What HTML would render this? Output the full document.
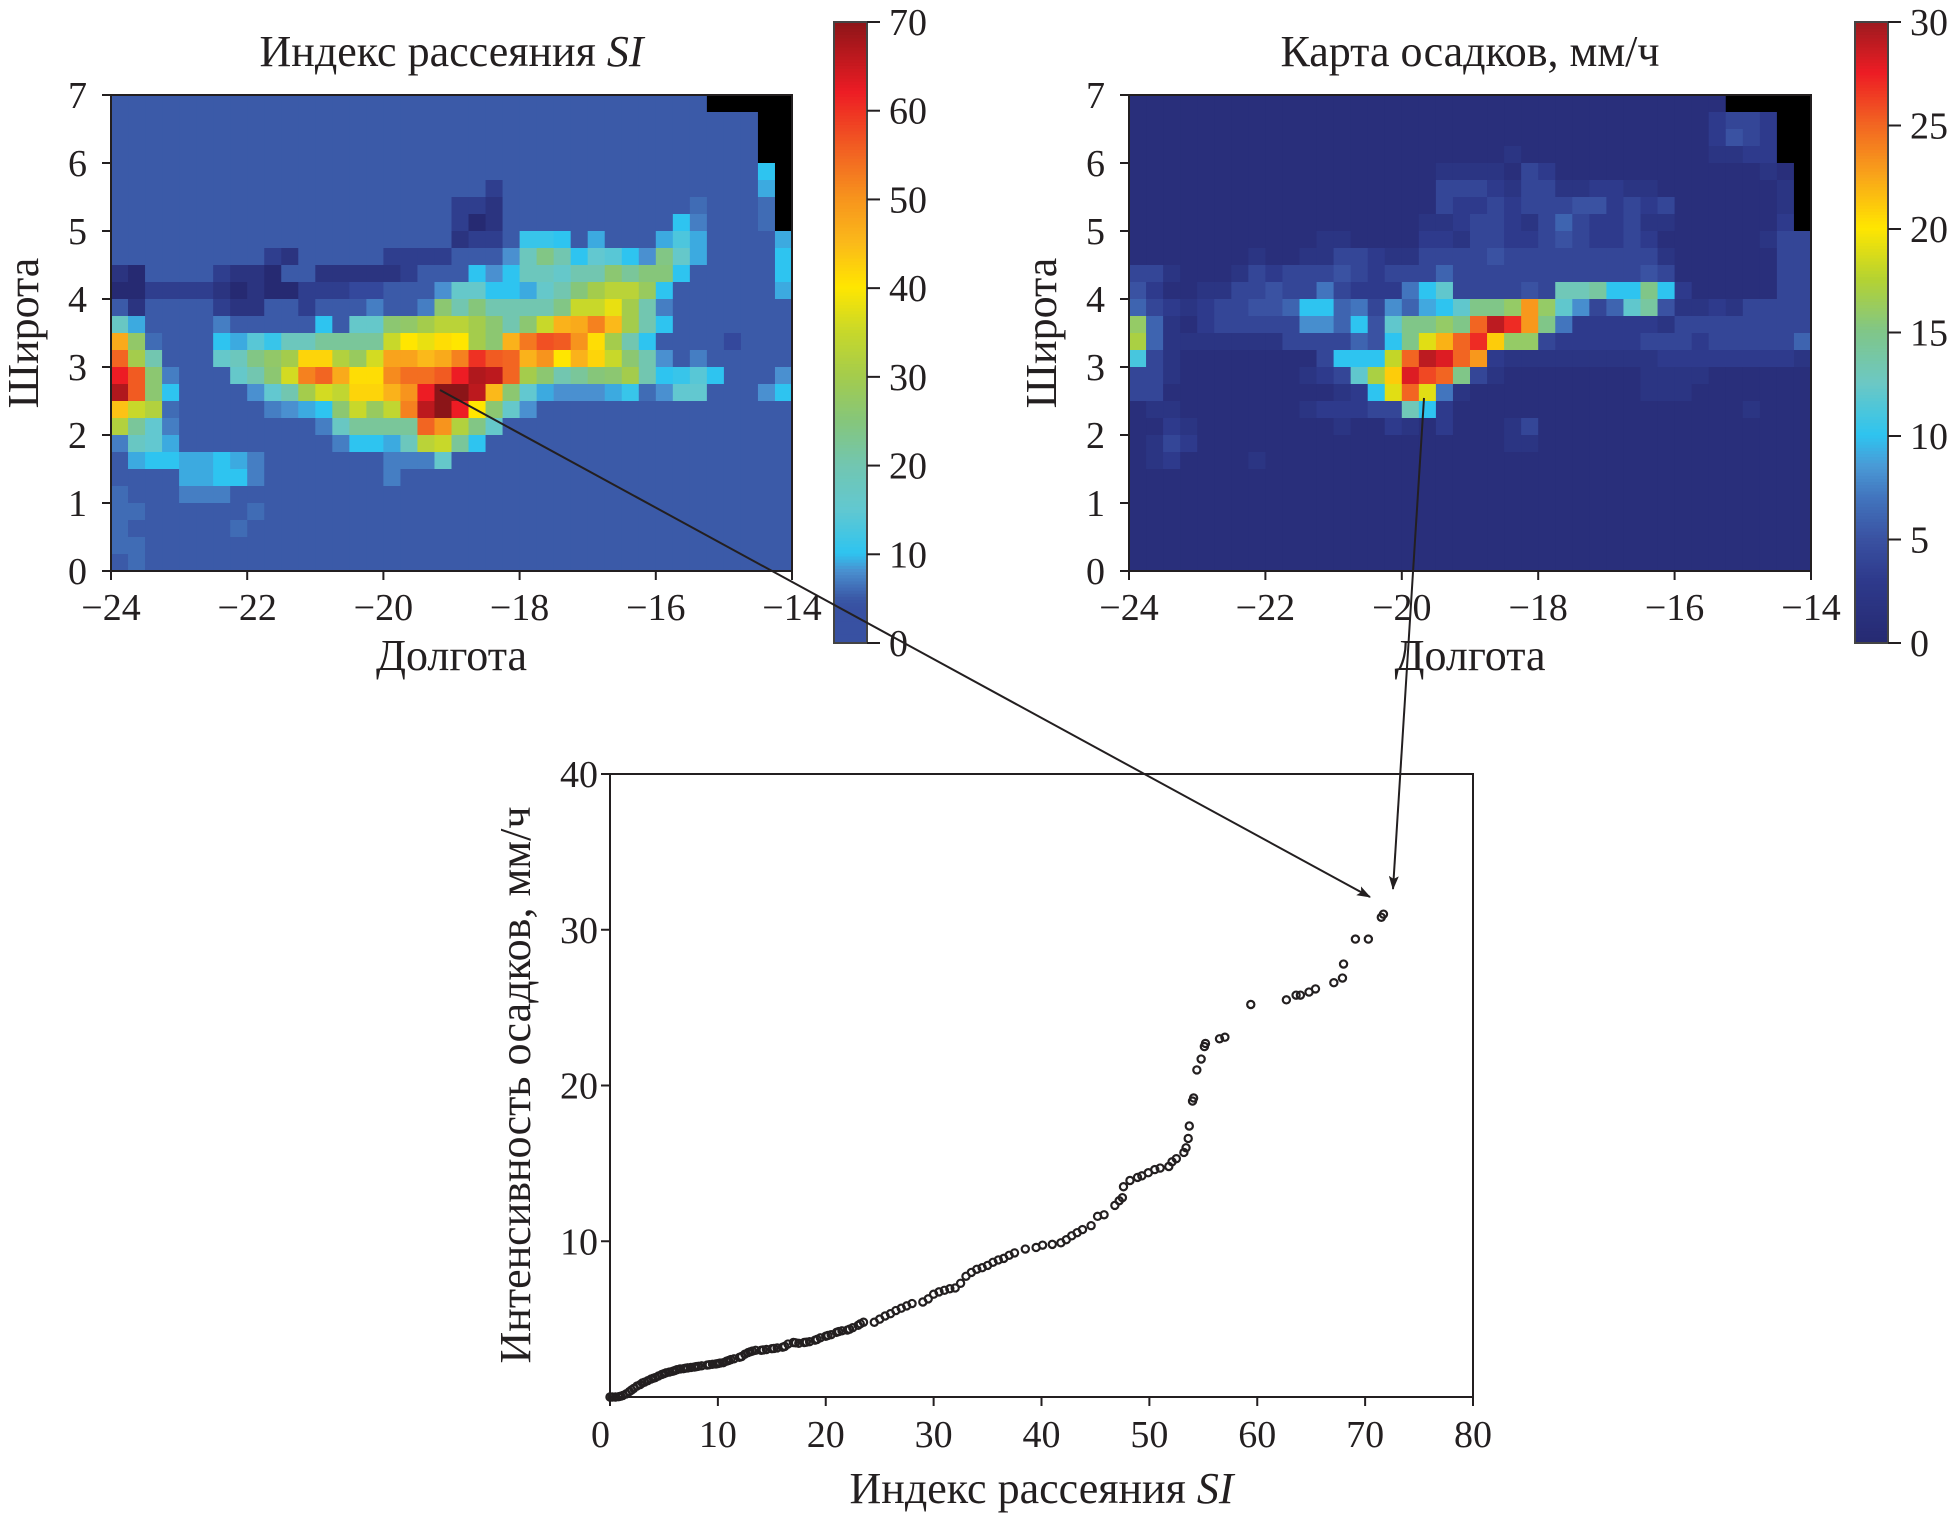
<!DOCTYPE html>
<html><head><meta charset="utf-8">
<style>
html,body{margin:0;padding:0;background:#fff;}
svg{display:block;font-family:"Liberation Serif",serif;}
</style></head>
<body>
<svg id="chart" width="1952" height="1520" viewBox="0 0 1952 1520" xmlns="http://www.w3.org/2000/svg">
<defs>
<marker id="ah" markerWidth="14" markerHeight="10" refX="13" refY="5" orient="auto" markerUnits="userSpaceOnUse"><path d="M0,0 L14,5 L0,10 L3,5 Z" fill="#231f20"/></marker>
</defs>
<g id="left"></g>
<g id="right"></g>
<g id="scatter"></g>
<g id="arrows"></g>
</svg>
<script>
const N = null;
const lonTicks = [-24, -22, -20, -18, -16, -14];
const latTicks = [0, 1, 2, 3, 4, 5, 6, 7];
const siBarTicks = [0, 10, 20, 30, 40, 50, 60, 70];
const rainBarTicks = [0, 5, 10, 15, 20, 25, 30];
const scatterXTicks = [0, 10, 20, 30, 40, 50, 60, 70, 80];
const scatterYTicks = [10, 20, 30, 40];

const siGrid = [
[5,5,5,5,5,5,5,5,5,5, 5,5,5,5,5,5,5,5,5,5, 5,5,5,5,5,5,5,5,5,5, 5,5,5,5,5,N,N,N,N,N],
[5,5,5,5,5,5,5,5,5,5, 5,5,5,5,5,5,5,5,5,5, 5,5,5,5,5,5,5,5,5,5, 5,5,5,5,5,5,5,5,N,N],
[5,5,5,5,5,5,5,5,5,5, 5,5,5,5,5,5,5,5,5,5, 5,5,5,5,5,5,5,5,5,5, 5,5,5,5,5,5,5,5,N,N],
[5,5,5,5,5,5,5,5,5,5, 5,5,5,5,5,5,5,5,5,5, 5,5,5,5,5,5,5,5,5,5, 5,5,5,5,5,5,5,5,N,N],
[5,5,5,5,5,5,5,5,5,5, 5,5,5,5,5,5,5,5,5,5, 5,5,5,5,5,5,5,5,5,5, 5,5,5,5,5,5,5,5,10,N],
[5,5,5,5,5,5,5,5,5,5, 5,5,5,5,5,5,5,5,5,5, 5,5,2,5,5,5,5,5,5,5, 5,5,5,5,5,5,5,5,9,N],
[5,5,5,5,5,5,5,5,5,5, 5,5,5,5,5,5,5,5,5,5, 2,2,1,5,5,5,5,5,5,5, 5,5,5,5,6,5,5,5,6,N],
[5,5,5,5,5,5,5,5,5,5, 5,5,5,5,5,5,5,5,5,5, 2,0,1,5,5,5,5,5,5,5, 5,5,5,10,7,5,5,5,6,N],
[5,5,5,5,5,5,5,5,5,5, 5,5,5,5,5,5,5,5,5,5, 1,2,2,5,11,11,10,5,9,5, 5,5,9,13,9,5,5,5,5,9],
[5,5,5,5,5,5,5,5,5,2, 1,5,5,5,5,5,2,2,2,2, 5,5,5,8,18,24,20,10,15,14, 10,8,24,16,9,5,5,5,5,10],
[1,0,5,5,5,5,2,1,1,0, 5,5,1,1,1,1,1,2,5,5, 5,10,8,10,18,18,16,20,20,26, 22,25,25,10,5,5,5,5,5,10],
[0,0,2,2,2,2,1,0,1,0, 0,2,2,2,3,3,5,5,5,8, 16,16,10,10,9,16,20,25,30,33, 33,28,10,5,5,5,5,5,5,9],
[5,1,5,5,5,5,2,1,1,5, 5,2,5,5,5,7,5,5,7,26, 20,25,20,20,20,20,24,35,35,38, 30,20,7,5,5,5,5,5,5,5],
[17,9,5,5,5,5,7,5,5,5, 5,5,10,5,16,16,26,27,30,33, 33,30,26,20,26,35,46,47,52,45, 30,20,10,5,5,5,5,5,5,5],
[47,27,6,5,5,5,10,9,14,11, 18,18,22,22,22,22,35,40,38,41, 40,30,26,46,53,57,56,50,41,30, 20,10,5,5,5,5,3,5,5,5],
[55,30,20,5,5,5,16,18,24,27, 30,42,42,32,28,36,48,48,45,47, 52,60,56,55,46,50,40,46,42,35, 26,20,8,5,7,5,5,5,5,5],
[62,56,26,7,5,5,5,16,20,26, 36,52,55,47,41,41,51,54,54,56, 62,67,66,55,30,26,20,22,25,26, 30,20,10,11,14,10,5,5,5,8],
[67,56,26,10,5,5,5,5,8,15, 20,30,36,34,42,42,46,50,62,70, 70,66,45,26,15,9,8,8,8,9, 11,6,8,15,15,5,5,5,8,10],
[44,35,32,6,5,5,5,5,5,7, 8,9,10,26,35,28,34,52,66,70, 62,40,26,16,8,5,5,5,5,5, 5,5,5,5,5,5,5,5,5,5],
[32,22,15,7,5,5,5,5,5,5, 5,5,7,17,22,22,22,22,55,50, 32,24,16,5,5,5,5,5,5,5, 5,5,5,5,5,5,5,5,5,5],
[7,17,15,9,5,5,5,5,5,5, 5,5,5,7,10,10,9,18,33,35, 22,10,5,5,5,5,5,5,5,5, 5,5,5,5,5,5,5,5,5,5],
[5,9,10,10,9,9,10,9,7,5, 5,5,5,5,5,5,7,7,7,16, 5,5,5,5,5,5,5,5,5,5, 5,5,5,5,5,5,5,5,5,5],
[5,5,5,5,9,9,10,10,7,5, 5,5,5,5,5,5,7,5,5,5, 5,5,5,5,5,5,5,5,5,5, 5,5,5,5,5,5,5,5,5,5],
[6,5,5,5,7,7,7,5,5,5, 5,5,5,5,5,5,5,5,5,5, 5,5,5,5,5,5,5,5,5,5, 5,5,5,5,5,5,5,5,5,5],
[6,6,5,5,5,5,5,5,6,5, 5,5,5,5,5,5,5,5,5,5, 5,5,5,5,5,5,5,5,5,5, 5,5,5,5,5,5,5,5,5,5],
[6,5,5,5,5,5,5,6,5,5, 5,5,5,5,5,5,5,5,5,5, 5,5,5,5,5,5,5,5,5,5, 5,5,5,5,5,5,5,5,5,5],
[6,6,5,5,5,5,5,5,5,5, 5,5,5,5,5,5,5,5,5,5, 5,5,5,5,5,5,5,5,5,5, 5,5,5,5,5,5,5,5,5,5],
[5,6,5,5,5,5,5,5,5,5, 5,5,5,5,5,5,5,5,5,5, 5,5,5,5,5,5,5,5,5,5, 5,5,5,5,5,5,5,5,5,5]
];

const rainGrid = [
[1,1,1,1,1,1,1,1,1,1, 1,1,1,1,1,1,1,1,1,1, 1,1,1,1,1,1,1,1,1,1, 1,1,1,1,1,N,N,N,N,N],
[1,1,1,1,1,1,1,1,1,1, 1,1,1,1,1,1,1,1,1,1, 1,1,1,1,1,1,1,1,1,1, 1,1,1,1,3,4,4,3,N,N],
[1,1,1,1,1,1,1,1,1,1, 1,1,1,1,1,1,1,1,1,1, 1,1,1,1,1,1,1,1,1,1, 1,1,1,1,3,5,4,3,N,N],
[1,1,1,1,1,1,1,1,1,1, 1,1,1,1,1,1,1,1,1,1, 1,1,2,1,1,1,1,1,1,1, 1,1,1,1,2,2,3,3,N,N],
[1,1,1,1,1,1,1,1,1,1, 1,1,1,1,1,1,1,1,2,2, 2,2,1,4,3,1,1,1,1,1, 1,1,1,1,1,1,1,2,1,N],
[1,1,1,1,1,1,1,1,1,1, 1,1,1,1,1,1,1,1,4,4, 4,3,2,4,4,2,2,3,3,2, 2,1,1,1,1,1,1,1,2,N],
[1,1,1,1,1,1,1,1,1,1, 1,1,1,1,1,1,1,1,4,3, 3,4,3,4,4,4,5,5,3,4, 3,4,1,1,1,1,1,1,2,N],
[1,1,1,1,1,1,1,1,1,1, 1,1,1,1,1,1,1,2,2,3, 4,4,3,2,4,6,4,3,3,4, 2,2,1,1,1,1,1,1,3,N],
[1,1,1,1,1,1,1,1,1,1, 1,2,2,1,1,1,1,3,3,2, 4,4,3,3,4,5,4,3,3,4, 3,1,1,1,1,1,1,2,4,4],
[1,1,1,1,1,1,1,2,1,1, 2,2,4,4,3,2,2,4,4,4, 4,5,4,4,4,4,4,4,4,4, 4,2,1,1,1,1,1,1,4,4],
[4,4,2,1,1,1,2,4,3,4, 4,4,5,4,3,4,4,4,6,4, 4,4,4,4,4,4,4,4,4,4, 5,4,1,1,1,1,1,1,4,4],
[5,3,1,1,2,2,4,4,5,4, 4,7,4,3,3,3,7,10,12,4, 4,4,4,5,4,13,13,14,10,10, 15,10,3,1,1,1,1,1,4,4],
[6,4,3,2,3,4,4,5,5,6, 10,10,6,7,4,8,6,9,10,12, 15,15,16,23,16,12,8,4,6,12, 14,5,2,2,3,2,4,4,4,4],
[16,6,2,1,3,4,4,4,4,4, 8,8,6,10,5,12,15,15,16,15, 25,29,27,23,15,7,3,3,3,3, 3,2,4,4,4,4,4,4,4,4],
[17,6,2,2,2,2,2,2,2,4, 4,4,4,6,5,10,15,19,22,25, 27,21,16,16,4,3,3,3,3,3, 4,4,4,3,4,4,4,4,4,6],
[11,4,2,1,1,1,1,1,1,1, 1,4,10,10,10,18,25,29,28,25, 23,3,2,2,2,2,2,2,2,2, 2,3,3,3,3,3,3,3,3,2],
[4,4,2,1,1,1,1,1,1,1, 2,3,4,12,17,21,28,26,25,15, 4,2,1,1,1,1,1,1,1,1, 2,2,2,2,1,1,1,1,1,1],
[4,4,1,1,1,1,1,1,1,1, 1,1,2,3,10,19,25,19,7,2, 1,1,1,1,1,1,1,1,1,1, 2,2,2,1,1,1,1,1,1,1],
[1,2,2,1,1,1,1,1,1,1, 2,3,3,3,4,4,13,10,3,1, 1,1,1,1,1,1,1,1,1,1, 1,1,1,1,1,1,2,1,1,1],
[1,1,3,2,1,1,1,1,1,1, 1,1,2,1,1,3,2,1,3,1, 1,1,2,4,1,1,1,1,1,1, 1,1,1,1,1,1,1,1,1,1],
[1,2,4,3,1,1,1,1,1,1, 1,1,1,1,1,1,1,1,1,1, 1,1,2,2,1,1,1,1,1,1, 1,1,1,1,1,1,1,1,1,1],
[1,2,3,1,1,1,1,2,1,1, 1,1,1,1,1,1,1,1,1,1, 1,1,1,1,1,1,1,1,1,1, 1,1,1,1,1,1,1,1,1,1],
[1,1,1,1,1,1,1,1,1,1, 1,1,1,1,1,1,1,1,1,1, 1,1,1,1,1,1,1,1,1,1, 1,1,1,1,1,1,1,1,1,1],
[1,1,1,1,1,1,1,1,1,1, 1,1,1,1,1,1,1,1,1,1, 1,1,1,1,1,1,1,1,1,1, 1,1,1,1,1,1,1,1,1,1],
[1,1,1,1,1,1,1,1,1,1, 1,1,1,1,1,1,1,1,1,1, 1,1,1,1,1,1,1,1,1,1, 1,1,1,1,1,1,1,1,1,1],
[1,1,1,1,1,1,1,1,1,1, 1,1,1,1,1,1,1,1,1,1, 1,1,1,1,1,1,1,1,1,1, 1,1,1,1,1,1,1,1,1,1],
[1,1,1,1,1,1,1,1,1,1, 1,1,1,1,1,1,1,1,1,1, 1,1,1,1,1,1,1,1,1,1, 1,1,1,1,1,1,1,1,1,1],
[1,1,1,1,1,1,1,1,1,1, 1,1,1,1,1,1,1,1,1,1, 1,1,1,1,1,1,1,1,1,1, 1,1,1,1,1,1,1,1,1,1]
];

const siValues = [0,0.2,0.5,0.8,1,1.2,1.5,1.8,2,2.2,2.5,2.8,3,3.2,3.5,3.8,4,4.2,4.5,4.8,5,5.2,5.5,5.8,6,6.2,6.5,6.8,7,7.2,7.5,7.8,8,8.2,8.5,9,9.2,9.5,9.8,10,10.2,10.5,10.8,11,11.2,11.5,12,12.2,12.5,12.8,13,13.2,13.5,14,14.2,14.5,15,15.2,15.5,16,16.2,16.5,17,17.2,17.5,18,18.2,18.5,19,19.2,19.5,20,20.2,20.5,21,21.2,21.5,22,22.2,22.5,23,23.2,23.5,24.5,25,25.5,26,26.5,27,27.5,28,29,29.5,30,30.5,31,31.5,32,32.5,33,33.5,34,34.5,35,35.5,36,36.5,37,37.5,38.5,39.5,40.1,41,41.8,42.3,42.8,43.3,43.8,44.6,45.2,45.8,46.8,47.2,47.5,47.6,48.2,48.9,49.3,49.9,50.5,51,51.8,52.1,52.5,53.2,53.4,53.6,53.7,54,54.1,54.4,54.8,55.1,55.2,56.5,57,59.4,62.7,63.6,64,64.8,65.4,67.1,67.9,68,69.1,70.3,71.5,71.7];
const rainValues = [0,0,0,0.02,0.05,0.1,0.2,0.35,0.45,0.55,0.7,0.8,0.9,0.95,1.05,1.15,1.2,1.25,1.35,1.45,1.5,1.55,1.6,1.65,1.7,1.75,1.8,1.82,1.85,1.87,1.9,1.92,1.95,1.97,2,2.05,2.07,2.1,2.12,2.15,2.18,2.2,2.3,2.35,2.4,2.45,2.55,2.6,2.75,2.85,2.9,2.95,3,3,3.02,3.05,3.1,3.12,3.15,3.2,3.25,3.4,3.5,3.48,3.45,3.5,3.52,3.55,3.65,3.7,3.8,3.9,3.95,4,4.15,4.2,4.25,4.3,4.35,4.45,4.6,4.7,4.8,4.8,5,5.2,5.35,5.55,5.7,5.85,6,6.1,6.3,6.6,6.75,6.85,6.95,7,7.3,7.75,8,8.2,8.3,8.45,8.65,8.8,8.9,9.1,9.25,9.5,9.6,9.75,9.8,9.9,10.1,10.35,10.55,10.75,11,11.6,11.7,12.3,12.6,12.8,13.5,13.9,14.1,14.2,14.4,14.6,14.7,14.8,15.1,15.3,15.7,16,16.6,17.4,19,19.2,21,21.7,22.5,22.7,23,23.1,25.2,25.5,25.8,25.8,26,26.2,26.6,26.9,27.8,29.4,29.4,30.8,31];

const NS = "http://www.w3.org/2000/svg";
function mk(tag, attrs, parent) {
  const e = document.createElementNS(NS, tag);
  for (const k in attrs) e.setAttribute(k, attrs[k]);
  parent.appendChild(e);
  return e;
}
function hexToRgb(h){return [parseInt(h.slice(1,3),16),parseInt(h.slice(3,5),16),parseInt(h.slice(5,7),16)];}
function makeCmap(stops){
  return function(v){
    if (v <= stops[0][0]) return stops[0][1];
    for (let i=1;i<stops.length;i++){
      if (v <= stops[i][0]){
        const t=(v-stops[i-1][0])/(stops[i][0]-stops[i-1][0]);
        const a=hexToRgb(stops[i-1][1]), b=hexToRgb(stops[i][1]);
        return "rgb("+a.map((x,j)=>Math.round(x+(b[j]-x)*t)).join(",")+")";
      }
    }
    return stops[stops.length-1][1];
  };
}
const siCmap = makeCmap([[0,"#262a72"],[3,"#34489c"],[5,"#3b5aa8"],[8,"#4a90d0"],[10,"#2ec4f0"],[15,"#62c8d0"],[20,"#72c6b0"],[25,"#86c67a"],[30,"#a4cc4c"],[35,"#c8d82a"],[40,"#ffe600"],[45,"#fbb91a"],[50,"#f7941d"],[55,"#f26522"],[62,"#ed1c24"],[70,"#8b1518"]]);
const rainCmap = makeCmap([[0,"#262a72"],[3,"#2e3a8c"],[5,"#3a52a2"],[7,"#4275be"],[8.5,"#4a9ad6"],[10,"#2ec4f0"],[12.5,"#6cc8c4"],[15,"#80c688"],[17.5,"#b4d232"],[20,"#ffe600"],[22.5,"#f9a51a"],[25,"#f26522"],[27.5,"#ed1c24"],[30,"#9b1b1f"]]);

const TXT = "#231f20";
const FS = 38;
const TFS = 44;

function drawMap(g, grid, cmap, x0, x1, barX, barTicks, barMax, title, mapName) {
  const y0 = 95, y1 = 571;
  const xs = lon => x0 + (lon + 24) / 10 * (x1 - x0);
  const ys = lat => y1 - lat / 7 * (y1 - y0);
  const cells = mk("g", {}, g);
  
  
  for (let r = 0; r < grid.length; r++) {
    for (let c = 0; c < grid[r].length; c++) {
      const v = grid[r][c];
      const lon = -24 + c * 0.25, lat = 7 - r * 0.25;
      const rx = xs(lon), ry = ys(lat);
      const rect = mk("rect", {x: rx, y: ry, width: xs(lon + 0.25) - rx + 0.6, height: ys(lat - 0.25) - ry + 0.6,
        fill: v === null ? "#000" : cmap(v)}, cells);
      
      
    }
  }
  const frame = mk("rect", {x: x0, y: y0, width: x1 - x0, height: y1 - y0, fill: "none", stroke: TXT, "stroke-width": 2}, g);
  
  
  lonTicks.forEach(t => {
    mk("line", {x1: xs(t), x2: xs(t), y1: y1, y2: y1 + 9, stroke: TXT, "stroke-width": 2}, g);
    const tx = mk("text", {x: xs(t), y: y1 + 49, "font-size": FS, "text-anchor": "middle", fill: TXT}, g);
    tx.textContent = "\u2212" + Math.abs(t);
    
    
  });
  latTicks.forEach(t => {
    mk("line", {x1: x0 - 9, x2: x0, y1: ys(t), y2: ys(t), stroke: TXT, "stroke-width": 2}, g);
    const tx = mk("text", {x: x0 - 24, y: ys(t) + 13, "font-size": FS, "text-anchor": "end", fill: TXT}, g);
    tx.textContent = t;
    
    
  });
  const xl = mk("text", {x: (x0 + x1) / 2, y: 670, "font-size": TFS, "text-anchor": "middle", fill: TXT}, g);
  xl.textContent = "Долгота";
  
  
  const yl = mk("text", {x: 0, y: 0, "font-size": TFS, "text-anchor": "middle", fill: TXT, transform: "translate(" + (x0 - 73) + "," + ((y0 + y1) / 2) + ") rotate(-90)"}, g);
  yl.textContent = "Широта";
  
  
  const tt = mk("text", {x: (x0 + x1) / 2, y: 66, "font-size": TFS, "text-anchor": "middle", fill: TXT}, g);
  tt.innerHTML = title;
  
  
  const by0 = 22, by1 = 643, bw = 33;
  const bs = v => by1 - v / barMax * (by1 - by0);
  const bar = mk("g", {}, g);
  
  
  const steps = 200;
  for (let i = 0; i < steps; i++) {
    const v0 = i / steps * barMax, v1 = (i + 1) / steps * barMax;
    mk("rect", {x: barX, y: bs(v1), width: bw, height: bs(v0) - bs(v1) + 0.5, fill: cmap(barMax === 70 ? Math.max(v0, 4) : v0)}, bar);
  }
  mk("rect", {x: barX, y: by0, width: bw, height: by1 - by0, fill: "none", stroke: "#444", "stroke-width": 2}, bar);
  barTicks.forEach(t => {
    mk("line", {x1: barX + bw, x2: barX + bw + 13, y1: bs(t), y2: bs(t), stroke: TXT, "stroke-width": 2}, bar);
    const tx = mk("text", {x: barX + bw + 22, y: bs(t) + 13, "font-size": FS, fill: TXT}, bar);
    tx.textContent = t;
    
    
  });
}

drawMap(document.getElementById("left"), siGrid, siCmap, 111, 792, 834, siBarTicks, 70,
  'Индекс рассеяния <tspan font-style="italic">SI</tspan>', 'si-map');
drawMap(document.getElementById("right"), rainGrid, rainCmap, 1129, 1811, 1855, rainBarTicks, 30,
  'Карта осадков, мм/ч', 'rain-map');

const sg = document.getElementById("scatter");
const SX0 = 610, SX1 = 1473, SY0 = 774, SY1 = 1397;
const sx = v => SX0 + v / 80 * (SX1 - SX0);
const sy = v => SY1 - v / 40 * (SY1 - SY0);
const sframe = mk("rect", {x: SX0, y: SY0, width: SX1 - SX0, height: SY1 - SY0, fill: "none", stroke: TXT, "stroke-width": 2}, sg);


scatterXTicks.forEach(t => {
  mk("line", {x1: sx(t), x2: sx(t), y1: SY1, y2: SY1 + 9, stroke: TXT, "stroke-width": 2}, sg);
  const tx = mk("text", {x: sx(t), y: SY1 + 50, "font-size": FS, "text-anchor": t === 0 ? "end" : "middle", fill: TXT}, sg);
  tx.textContent = t;
  
  
});
scatterYTicks.forEach(t => {
  mk("line", {x1: SX0 - 9, x2: SX0, y1: sy(t), y2: sy(t), stroke: TXT, "stroke-width": 2}, sg);
  const tx = mk("text", {x: SX0 - 12, y: sy(t) + 13, "font-size": FS, "text-anchor": "end", fill: TXT}, sg);
  tx.textContent = t;
  
  
});
const pts = mk("g", {}, sg);


siValues.forEach((v, i) => {
  const c = mk("circle", {cx: sx(v), cy: sy(rainValues[i]), r: 3.6, fill: "none", stroke: TXT, "stroke-width": 2.2}, pts);
  
  
});
const sxl = mk("text", {x: (SX0 + SX1) / 2, y: 1503, "font-size": TFS, "text-anchor": "middle", fill: TXT}, sg);
sxl.innerHTML = 'Индекс рассеяния <tspan font-style="italic">SI</tspan>';


const syl = mk("text", {x: 0, y: 0, "font-size": TFS, "text-anchor": "middle", fill: TXT, transform: "translate(530,1085) rotate(-90)"}, sg);
syl.textContent = "Интенсивность осадков, мм/ч";



const ag = document.getElementById("arrows");
const a1 = mk("line", {x1: 440, y1: 390, x2: 1370, y2: 897, stroke: TXT, "stroke-width": 2, "marker-end": "url(#ah)"}, ag);


const a2 = mk("line", {x1: 1424, y1: 398, x2: 1393, y2: 889, stroke: TXT, "stroke-width": 2, "marker-end": "url(#ah)"}, ag);


</script>
</body></html>
